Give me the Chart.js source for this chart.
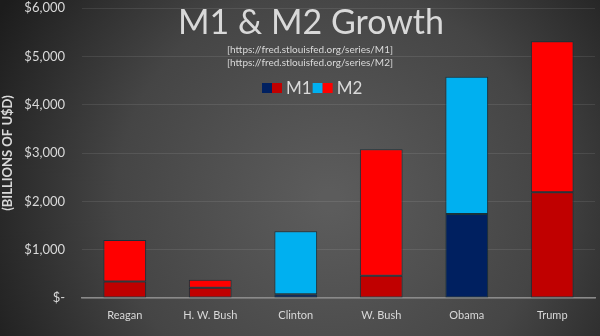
<!DOCTYPE html>
<html>
<head>
<meta charset="utf-8">
<script src="https://cdn.jsdelivr.net/npm/chart.js@4"></script>
<style>
html, body { margin: 0; padding: 0; background: #2a2a2a; }
#wrap { width: 600px; height: 336px; position: relative; }
</style>
</head>
<body>
<div id="wrap"><canvas id="myChart" width="600" height="336"></canvas></div>
<script>
// data (billions of USD)
const presidents = ['Reagan', 'H. W. Bush', 'Clinton', 'W. Bush', 'Obama', 'Trump'];
const party = ['R', 'R', 'D', 'R', 'D', 'R'];
const m1Growth = [340, 210, 80, 460, 1740, 2190];
const m2Growth = [860, 170, 1300, 2620, 2840, 3120];
const yTicks = [0, 1000, 2000, 3000, 4000, 5000, 6000];
const titleText = 'M1 & M2 Growth';
const sourceLines = ['[https://fred.stlouisfed.org/series/M1]', '[https://fred.stlouisfed.org/series/M2]'];

const m1Colors = { R: '#c00000', D: '#002060' };
const m2Colors = { R: '#ff0000', D: '#00b0f0' };
const txt = '#d9d9d9';
const FONT = 'Lato, "Open Sans", sans-serif';

// background + title / sources / legend drawn over the plot
const decor = {
  id: 'decor',
  beforeDraw(chart) {
    const c = chart.ctx, w = chart.width, h = chart.height;
    const g = c.createRadialGradient(330, 200, 10, 330, 200, 380);
    g.addColorStop(0, '#5c5c5c');
    g.addColorStop(0.55, '#454545');
    g.addColorStop(1, '#1c1c1c');
    c.save();
    c.fillStyle = g;
    c.fillRect(0, 0, w, h);
    c.restore();
  },
  afterDraw(chart) {
    const c = chart.ctx;
    c.save();
    c.fillStyle = txt;
    c.textAlign = 'center';
    c.textBaseline = 'middle';
    c.font = '34px ' + FONT;
    c.fillText(titleText, 311, 23);
    c.font = '10px ' + FONT;
    c.fillText(sourceLines[0], 310, 50);
    c.fillText(sourceLines[1], 310, 63);

    // legend: two swatches per series (one per party)
    const labels = chart.data.datasets.map(d => d.label);
    const sw = [[m1Colors.D, m1Colors.R], [m2Colors.D, m2Colors.R]];
    c.font = '17px ' + FONT;
    c.textAlign = 'left';
    let x = 262;
    const y = 88;
    labels.forEach((lab, i) => {
      c.fillStyle = sw[i][0];
      c.fillRect(x, y - 5, 10, 10);
      c.fillStyle = sw[i][1];
      c.fillRect(x + 10, y - 5, 10, 10);
      c.fillStyle = txt;
      c.fillText(lab, x + 24, y + 1);
      x += 24 + c.measureText(lab).width + 1;
    });
    c.restore();
  }
};

const ctx = document.getElementById('myChart');
const myChart1 = new Chart(ctx, {
  type: 'bar',
  data: {
    labels: presidents,
    datasets: [{
      label: 'M1',
      data: m1Growth,
      backgroundColor: party.map(p => m1Colors[p]),
      borderColor: 'rgba(20,45,55,0.9)',
      borderWidth: 1,
      borderSkipped: false
    }, {
      label: 'M2',
      data: m2Growth,
      backgroundColor: party.map(p => m2Colors[p]),
      borderColor: 'rgba(20,45,55,0.9)',
      borderWidth: 1,
      borderSkipped: false
    }]
  },
  options: {
    responsive: false,
    animation: false,
    layout: { padding: { left: 0, right: 5, top: 8, bottom: 0 } },
    datasets: { bar: { categoryPercentage: 1.0, barPercentage: 0.5 } },
    scales: {
      x: {
        stacked: true,
        grid: { display: false, drawTicks: false },
        border: { color: '#8a8a8a', width: 1.5 },
        ticks: { color: txt, font: { family: FONT, size: 11 }, padding: 11 },
        afterFit(scale) { scale.height = 38; }
      },
      y: {
        stacked: true,
        min: 0,
        max: 6000,
        afterBuildTicks(scale) { scale.ticks = yTicks.map(v => ({ value: v })); },
        grid: { color: 'rgba(255,255,255,0.09)', drawTicks: false },
        border: { display: false },
        ticks: {
          color: txt,
          font: { family: FONT, size: 13 },
          padding: 17,
          callback: v => v === 0 ? '$-' : '$' + v.toLocaleString('en-US')
        },
        title: {
          display: true,
          text: '(BILLIONS OF U$D)',
          color: txt,
          font: { family: FONT, size: 13, weight: 'bold' },
          padding: { top: 0, bottom: 2 }
        },
        afterFit(scale) {
          scale.width = 82;
          scale.paddingTop = 0;
          scale.paddingBottom = 0;
        }
      }
    },
    plugins: {
      legend: { display: false },
      title: { display: false },
      tooltip: { enabled: false }
    }
  },
  plugins: [decor]
});
</script>
</body>
</html>
